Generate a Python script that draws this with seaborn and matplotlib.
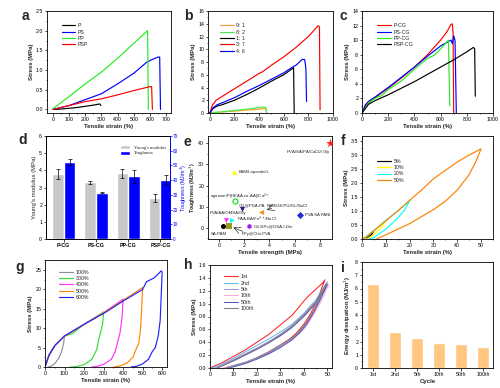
import matplotlib
matplotlib.use("Agg")
import matplotlib.pyplot as plt
import seaborn as sns
import numpy as np
from matplotlib.ticker import MultipleLocator, AutoMinorLocator

# ==========================================
# DATA
# ==========================================
# (a) single-network films
a_P_x = [0, 50, 100, 150, 200, 250, 290, 296]
a_P_y = [0, 0.01, 0.03, 0.05, 0.08, 0.11, 0.14, 0.1]
a_PS_x = [0, 100, 200, 300, 400, 500, 580, 620, 650, 660, 665]
a_PS_y = [0, 0.1, 0.25, 0.4, 0.65, 0.92, 1.2, 1.28, 1.33, 1.33, 0.0]
a_PP_x = [0, 100, 200, 300, 400, 500, 580, 585, 590]
a_PP_y = [0.02, 0.33, 0.65, 0.95, 1.3, 1.68, 1.98, 2.0, 0.0]
a_PSP_x = [0, 100, 200, 300, 400, 500, 600, 610, 615]
a_PSP_y = [0, 0.1, 0.2, 0.27, 0.37, 0.48, 0.58, 0.58, 0.0]

# (b) ratio series
b_labels = ["9: 1", "8: 2", "1: 1", "3: 7", "4: 6"]
b_x = [
    [0, 100, 200, 300, 400, 450, 458, 462],
    [0, 100, 200, 300, 400, 440, 455, 460],
    [0, 25, 60, 100, 200, 300, 400, 500, 600, 680, 685],
    [0, 20, 50, 100, 200, 300, 400, 430, 500, 600, 700, 800, 880, 890, 895],
    [0, 25, 60, 100, 200, 300, 400, 500, 600, 680, 700, 750, 770, 780, 785],
]
b_y = [
    [0, 0.15, 0.3, 0.45, 0.6, 0.72, 0.55, 0.0],
    [0, 0.2, 0.4, 0.6, 0.85, 0.95, 0.85, 0.0],
    [0, 0.7, 1.1, 1.3, 2.0, 2.9, 3.9, 5.0, 6.0, 7.1, 0.0],
    [0, 1.2, 2.0, 2.6, 3.8, 5.0, 6.2, 6.5, 7.5, 8.8, 10.3, 12.0, 13.7, 13.5, 0.5],
    [0, 0.8, 1.3, 1.6, 2.4, 3.4, 4.3, 5.3, 6.3, 7.3, 7.5, 8.4, 8.4, 7.0, 1.8],
]
b_colors = ["#FF9933", "#44EE44", "black", "#FF0000", "#0000FF"]

# (c) CG gels
c_labels = ["P-CG", "PS-CG", "PP-CG", "PSP-CG"]
c_x = [
    [0, 25, 50, 100, 200, 300, 400, 500, 600, 650, 680, 690, 695, 700],
    [0, 25, 50, 100, 200, 300, 400, 500, 600, 680, 690, 700, 710, 720],
    [0, 50, 100, 150, 200, 300, 400, 500, 550, 600, 660, 670],
    [0, 50, 100, 200, 300, 400, 500, 600, 700, 800, 850, 860, 865],
]
c_y = [
    [0, 1.0, 1.5, 2.1, 3.4, 4.8, 6.3, 8.0, 10.0, 11.2, 12.2, 12.2, 11.0, 0.0],
    [0, 1.1, 1.6, 2.2, 3.5, 4.9, 6.3, 7.8, 9.2, 10.0, 9.5, 10.6, 10.0, 0.0],
    [0, 1.4, 2.0, 2.4, 3.2, 4.4, 6.0, 7.5, 7.9, 8.8, 10.0, 1.0],
    [0, 1.2, 1.7, 2.5, 3.4, 4.3, 5.3, 6.3, 7.3, 8.4, 9.0, 8.8, 2.3],
]
c_colors = ["#FF0000", "#0000FF", "#22EE22", "black"]

# (d) modulus / toughness
d_cats = ["P-CG", "PS-CG", "PP-CG", "PSP-CG"]
d_modulus = [3.78, 3.3, 3.82, 2.4]
d_modulus_err = [0.28, 0.1, 0.28, 0.25]
d_tough = [52.2, 31.5, 42.6, 39.9]
d_tough_err = [2.1, 0.4, 4.4, 3.5]

# (e) comparison with literature
e_names = ["PVA/SA/PA/CaCl$_2$/Gly", "PAM/Laponite/IL", "CG@PDA-PA", "PVA/AA/OMSA/Gly",
           "PAM/GE/PU/GL/NaCl", "PVA SA PANI", "heart", "PAA-BA/Fe$^{3+}$/NaCl",
           "SA-PAM", "PPy@Chit-PVA", "CS-NPs@OSA-I-Dm"]
e_strength = [8.8, 1.2, 1.25, 1.8, 3.35, 6.45, 0.55, 1.05, 0.35, 0.8, 2.4]
e_tough = [40, 26.5, 12.5, 9.0, 7.6, 6.2, 3.6, 3.6, 1.0, 1.0, 0.8]
e_markers = ["*", "^", "o", "v", "<", "D", "v", ">", "o", "s", "h"]
e_colors = ["#FF2020", "#FFFF00", "#22DD22", "#1A237E", "#FF8C1A", "#1E2BE0",
            "#FF33FF", "#00FFFF", "black", "#9A9A1A", "#9922EE"]

# (f) hysteresis at several strains
f_labels = ["5%", "10%", "20%", "50%"]
f_x = [
    [0.5, 3, 5, 4, 2],
    [0.5, 5, 10, 8, 5, 2],
    [0.5, 5, 10, 15, 20, 18, 15, 10, 5, 3],
    [0, 2, 5, 10, 15, 20, 25, 30, 35, 40, 45, 50, 48, 45, 40, 35, 30, 25, 20, 15, 10, 6],
]
f_y = [
    [0, 0.15, 0.3, 0.15, 0.02],
    [0, 0.3, 0.65, 0.4, 0.15, 0.0],
    [0, 0.3, 0.67, 1.0, 1.37, 1.05, 0.75, 0.35, 0.05, 0.0],
    [0, 0.08, 0.3, 0.65, 1.0, 1.38, 1.75, 2.15, 2.45, 2.75, 3.0, 3.22,
     2.8, 2.3, 1.75, 1.35, 1.05, 0.8, 0.55, 0.35, 0.15, 0.0],
]
f_colors = ["black", "#FFFF00", "#00FFFF", "#FF8000"]

# (g) loading-unloading at increasing strains
g_labels = ["100%", "300%", "400%", "500%", "600%"]
g_x = [
    [0, 20, 50, 100, 95, 85, 70, 50, 30, 15],
    [0, 20, 50, 100, 140, 200, 300, 295, 285, 275, 265, 240, 200, 160, 130],
    [0, 20, 50, 100, 200, 300, 400, 395, 385, 375, 360, 340, 300, 270, 240],
    [0, 20, 50, 100, 200, 300, 400, 500, 495, 490, 480, 470, 450, 420, 380, 350],
    [0, 20, 50, 100, 150, 200, 300, 400, 500, 520, 560, 580, 595, 600,
     595, 590, 580, 565, 550, 530, 500, 470, 440],
]
g_y = [
    [0, 3, 5.5, 8, 6, 4, 2.2, 0.9, 0.2, 0],
    [0, 3, 5.5, 8, 8.6, 11, 14.2, 11, 9, 7, 4.5, 2, 0.6, 0.1, 0],
    [0, 3, 5.5, 8, 11, 14, 17.5, 13, 9, 7, 4, 2, 0.7, 0.2, 0],
    [0, 3, 5.5, 8, 11, 14, 17.2, 20.5, 15, 10, 6, 5, 2.5, 1, 0.2, 0],
    [0, 3, 5.5, 8, 9.5, 11, 13.8, 17, 20, 22, 23, 24, 24.8, 24.5,
     18, 12, 8, 5, 4, 2, 0.8, 0.2, 0],
]
g_colors = ["#909090", "#33DD33", "#FF33FF", "#FF8800", "#2222FF"]

# (h) successive cycles at 50 %
h_labels = ["1st", "2nd", "5th", "10th", "50th", "100th"]
h_x = [
    [0, 5, 10, 15, 20, 25, 30, 35, 38, 40, 42, 45, 48, 49,
     47, 45, 43, 40, 37, 34, 30, 25, 20, 15, 10, 6],
    [1, 5, 10, 15, 20, 25, 30, 35, 40, 45, 50, 48, 45, 42, 40, 37, 34, 30, 25, 20, 15, 10, 7],
    [2, 5, 10, 15, 20, 25, 30, 35, 40, 45, 50, 47, 44, 41, 38, 35, 32, 30, 25, 20, 15, 10, 6],
    [2.5, 5, 10, 15, 20, 25, 30, 35, 40, 45, 50.5, 48, 45, 42, 40, 35, 30, 25, 20, 15, 10, 6],
    [3, 10, 15, 20, 25, 30, 35, 40, 45, 50, 47, 44, 41, 38, 35, 30, 25, 20, 15, 10, 7],
    [3, 10, 15, 20, 25, 30, 35, 40, 45, 49.5, 47, 44, 41, 38, 35, 30, 25, 20, 15, 10, 7],
]
h_y = [
    [0, 0.08, 0.18, 0.28, 0.4, 0.52, 0.67, 0.82, 0.95, 1.04, 1.12, 1.22, 1.32, 1.37,
     1.18, 1.0, 0.85, 0.68, 0.55, 0.45, 0.36, 0.25, 0.16, 0.08, 0.03, 0.0],
    [0, 0.06, 0.15, 0.25, 0.35, 0.45, 0.56, 0.68, 0.85, 1.05, 1.34,
     1.15, 0.93, 0.75, 0.64, 0.52, 0.42, 0.32, 0.22, 0.14, 0.07, 0.02, 0],
    [0, 0.05, 0.13, 0.22, 0.31, 0.41, 0.52, 0.66, 0.84, 1.04, 1.32,
     1.08, 0.86, 0.68, 0.55, 0.46, 0.39, 0.36, 0.25, 0.16, 0.09, 0.04, 0],
    [0, 0.04, 0.12, 0.21, 0.3, 0.4, 0.51, 0.65, 0.82, 1.02, 1.3,
     1.08, 0.88, 0.7, 0.6, 0.44, 0.33, 0.23, 0.15, 0.08, 0.03, 0],
    [0, 0.11, 0.2, 0.29, 0.39, 0.5, 0.63, 0.8, 1.0, 1.3,
     1.06, 0.85, 0.67, 0.54, 0.44, 0.32, 0.22, 0.14, 0.07, 0.02, 0],
    [0, 0.12, 0.21, 0.3, 0.4, 0.52, 0.65, 0.82, 1.02, 1.3,
     1.1, 0.88, 0.7, 0.57, 0.47, 0.35, 0.24, 0.15, 0.08, 0.03, 0],
]
h_colors = ["#FF2222", "#66BBEE", "#9999DD", "#FFAADD", "#5555BB", "#808080"]

# (i) energy dissipation
i_cycles = ["1st", "2nd", "5th", "10th", "50th", "100th"]
i_energy = [6.35, 2.7, 2.3, 1.9, 1.8, 1.55]

# ==========================================
# STYLE & LAYOUT
# ==========================================
sns.set_theme(style="ticks")
plt.rcParams['font.family'] = ['Liberation Sans', 'DejaVu Sans']
plt.rcParams.update({
    'axes.linewidth': 0.6, 'xtick.major.width': 0.5, 'ytick.major.width': 0.5,
    'xtick.minor.width': 0.4, 'ytick.minor.width': 0.4,
    'xtick.major.size': 1.8, 'ytick.major.size': 1.8,
    'xtick.minor.size': 1.0, 'ytick.minor.size': 1.0,
    'xtick.labelsize': 3.8, 'ytick.labelsize': 3.8,
    'xtick.major.pad': 1.0, 'ytick.major.pad': 1.0,
    'axes.labelsize': 4.3, 'axes.labelpad': 1.5,
    'axes.edgecolor': 'black', 'xtick.color': 'black', 'ytick.color': 'black',
})

W, H = 500, 388
fig = plt.figure(figsize=(5, 3.88), dpi=100)


def box(l, t, r, b):
    return [l / W, 1 - b / H, (r - l) / W, (b - t) / H]


def style(ax, xlabel, ylabel, minor=True):
    ax.set_xlabel(xlabel, fontweight='bold')
    ax.set_ylabel(ylabel, fontweight='bold')
    if minor:
        ax.xaxis.set_minor_locator(AutoMinorLocator(2))
        ax.yaxis.set_minor_locator(AutoMinorLocator(2))


def curves(ax, xs, ys, colors, labels, lw=0.85):
    for x, y, c, lab in zip(xs, ys, colors, labels):
        sns.lineplot(x=x, y=y, sort=False, estimator=None, color=c, lw=lw, label=lab, ax=ax)


def legend(ax, loc, bbox, size=3.8, hl=2.6):
    ax.legend(loc=loc, bbox_to_anchor=bbox, frameon=False, fontsize=size,
              handlelength=hl, handletextpad=0.5, labelspacing=0.25, borderaxespad=0)


def letter(x, y, s):
    fig.text(x / W, 1 - y / H, s, fontsize=10, fontweight='bold', ha='center', va='center')


# --- a
ax = fig.add_axes(box(47, 11, 171, 113))
curves(ax, [a_P_x, a_PS_x, a_PP_x, a_PSP_x], [a_P_y, a_PS_y, a_PP_y, a_PSP_y],
       ["black", "#0000FF", "#22EE22", "#FF0000"], ["P", "PS", "PP", "PSP"])
ax.set_xlim(-37, 730); ax.set_ylim(-0.09, 2.5)
ax.xaxis.set_major_locator(MultipleLocator(100)); ax.yaxis.set_major_locator(MultipleLocator(0.5))
ax.yaxis.set_major_formatter('{x:.1f}')
style(ax, "Tensile strain (%)", "Stress (MPa)")
legend(ax, 'upper left', (0.1, 0.9))
letter(25, 16, "a")

# --- b
ax = fig.add_axes(box(208, 11, 333, 113))
curves(ax, b_x, b_y, b_colors, b_labels)
ax.set_xlim(-15, 1000); ax.set_ylim(0, 16)
ax.xaxis.set_major_locator(MultipleLocator(200)); ax.yaxis.set_major_locator(MultipleLocator(2))
style(ax, "Tensile strain (%)", "Stress (MPa)")
legend(ax, 'upper left', (0.08, 0.9))
letter(188, 16, "b")

# --- c
ax = fig.add_axes(box(362, 11, 493, 113))
curves(ax, c_x, c_y, c_colors, c_labels)
ax.set_xlim(0, 1000); ax.set_ylim(0, 14)
ax.xaxis.set_major_locator(MultipleLocator(200)); ax.yaxis.set_major_locator(MultipleLocator(2))
style(ax, "Tensile strain (%)", "Stress (MPa)")
legend(ax, 'upper left', (0.1, 0.9))
letter(343, 16, "c")

# --- d
ax = fig.add_axes(box(46, 136, 170, 239))
ax2 = ax.twinx()
pos = np.arange(len(d_cats))
bw = 0.36
ekw = dict(elinewidth=0.5, capthick=0.5, capsize=1.2, ecolor='black')
ax.bar(pos - bw / 2, d_modulus, bw, yerr=d_modulus_err, color="#C8C8C8",
       label="Young's modulus", error_kw=ekw)
ax2.bar(pos + bw / 2, d_tough, bw, yerr=d_tough_err, color="#0000FF",
        label="Toughness", error_kw=ekw)
ax.set_xlim(-0.55, 3.3); ax.set_ylim(0, 6); ax2.set_ylim(0, 70)
ax.set_xticks(pos, d_cats, fontweight='bold')
ax.yaxis.set_major_locator(MultipleLocator(1)); ax2.yaxis.set_major_locator(MultipleLocator(10))
ax.set_ylabel("Young's modulus (MPa)")
ax2.set_ylabel("Toughness (MJ/m$^3$)", color="#0000FF", fontsize=3.8, labelpad=0.3)
ax2.tick_params(axis='y', colors="#0000FF", labelsize=3.4, width=0.5, length=1.4, pad=0.6)
ax2.spines['right'].set_color("#0000FF")
h1, l1 = ax.get_legend_handles_labels()
h2, l2 = ax2.get_legend_handles_labels()
ax.legend(h1 + h2, l1 + l2, loc='upper right', bbox_to_anchor=(0.98, 0.93), frameon=False,
          prop={'family': 'Liberation Serif', 'size': 3.3}, handlelength=2.2,
          handleheight=0.9, labelspacing=0.3, borderaxespad=0)
letter(23, 140, "d")

# --- e
ax = fig.add_axes(box(208, 136, 332, 239))
for sx, ty, m, c in zip(e_strength, e_tough, e_markers, e_colors):
    size = 42 if m == "*" else 13
    fc = "white" if c == "#22DD22" else c
    sns.scatterplot(x=[sx], y=[ty], marker=m, s=size, color=fc, edgecolor=c,
                    linewidth=0.9 if fc == "white" else 0, ax=ax, zorder=3)
ax.set_xlim(-0.85, 8.95); ax.set_ylim(-5.3, 43.5)
ax.xaxis.set_major_locator(MultipleLocator(2)); ax.yaxis.set_major_locator(MultipleLocator(10))
style(ax, "Tensile strength (MPa)", "")
ax.set_ylabel("Toughness (MJ/m$^3$)", fontweight='bold', fontsize=3.8, labelpad=0.3)
fs = 3.1
ax.text(8.85, 35.3, e_names[0], fontsize=fs, ha='right')
ax.text(1.55, 25.8, e_names[1], fontsize=fs)
ax.text(-0.7, 14.2, "agarose/P(HEAA-co-AA)/Ca$^{2+}$", fontsize=fs)
ax.text(1.55, 10.3, e_names[2], fontsize=fs)
ax.text(-0.7, 6.5, e_names[3], fontsize=fs)
ax.text(3.75, 10.0, e_names[4], fontsize=fs)
ax.annotate("", xy=(3.6, 8.0), xytext=(4.4, 9.8),
            arrowprops=dict(arrowstyle='->', lw=0.4, color='black'))
ax.text(6.8, 5.5, e_names[5], fontsize=fs)
ax.text(1.45, 3.0, e_names[7], fontsize=fs)
ax.text(2.75, 0.1, e_names[10], fontsize=fs)
ax.text(-0.6, -3.2, e_names[8], fontsize=fs)
ax.text(1.8, -3.5, e_names[9], fontsize=fs)
ax.annotate("", xy=(0.95, 0.6), xytext=(2.1, -2.2),
            arrowprops=dict(arrowstyle='->', lw=0.4, color='black'))
letter(187, 142, "e")

# --- f
ax = fig.add_axes(box(362, 136, 493, 239))
curves(ax, f_x, f_y, f_colors, f_labels)
ax.set_xlim(0, 55); ax.set_ylim(0, 3.68)
ax.xaxis.set_major_locator(MultipleLocator(10)); ax.yaxis.set_major_locator(MultipleLocator(0.5))
ax.yaxis.set_major_formatter('{x:.1f}')
style(ax, "Tensile strain (%)", "Stress (MPa)")
legend(ax, 'upper left', (0.1, 0.8))
letter(343, 141, "f")

# --- g
ax = fig.add_axes(box(45, 260, 167, 367))
curves(ax, g_x, g_y, g_colors, g_labels)
ax.set_xlim(0, 625); ax.set_ylim(0, 27.6)
ax.xaxis.set_major_locator(MultipleLocator(100)); ax.yaxis.set_major_locator(MultipleLocator(5))
style(ax, "Tensile strain (%)", "Stress (MPa)")
legend(ax, 'upper left', (0.1, 0.93))
letter(20, 267, "g")

# --- h
ax = fig.add_axes(box(210, 265, 332, 368))
curves(ax, h_x, h_y, h_colors, h_labels, lw=0.75)
ax.set_xlim(0, 52); ax.set_ylim(0, 1.6)
ax.xaxis.set_major_locator(MultipleLocator(10)); ax.yaxis.set_major_locator(MultipleLocator(0.2))
ax.yaxis.set_major_formatter('{x:.1f}')
style(ax, "Tensile strain (%)", "Stress (MPa)")
legend(ax, 'upper left', (0.1, 0.93))
letter(188, 265, "h")

# --- i
ax = fig.add_axes(box(362, 262, 493, 368))
sns.barplot(x=i_cycles, y=i_energy, color="#FFC77F", saturation=1, width=0.58, ax=ax)
ax.set_xlim(-0.5, 5.45); ax.set_ylim(0, 8)
ax.yaxis.set_major_locator(MultipleLocator(1))
ax.yaxis.set_minor_locator(AutoMinorLocator(2))
ax.set_xlabel("Cycle", fontweight='bold')
ax.set_ylabel("Energy dissipation (MJ/m$^3$)", fontweight='bold')
letter(343, 268, "i")

plt.savefig("out.png", dpi=100)
plt.close()
